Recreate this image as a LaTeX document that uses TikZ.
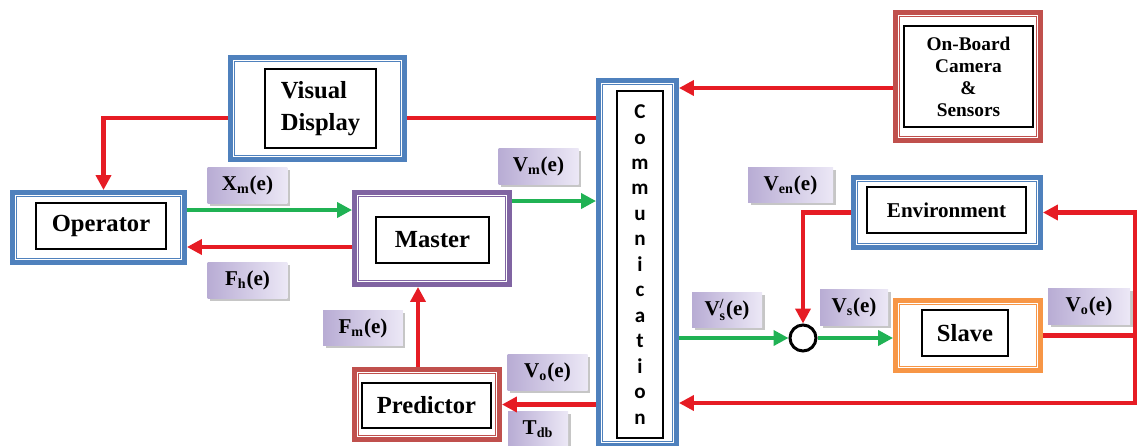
\documentclass[tikz,border=0pt]{standalone}
\usepackage{amsmath}
\usepackage{fontspec}
\setmainfont{Liberation Serif}
\newfontfamily\commfont{Carlito}
\usepackage{xcolor}
\usetikzlibrary{arrows.meta}

\definecolor{frameblue}{RGB}{79,129,189}
\definecolor{framepurple}{RGB}{128,100,162}
\definecolor{framered}{RGB}{192,80,77}
\definecolor{frameorange}{RGB}{247,150,70}
\definecolor{sigred}{RGB}{230,28,36}
\definecolor{siggreen}{RGB}{32,178,84}
\definecolor{tagdark}{RGB}{184,172,212}
\definecolor{taglight}{RGB}{236,232,246}

\begin{document}
\begin{tikzpicture}[
    x=0.02cm, y=-0.02cm,
    >={Triangle[length=0.3cm,width=0.3cm]},
    % blocks with double frame
    blockframe/.style={rectangle, draw=#1, line width=2.8pt, fill=white,
        path picture={\draw[#1, line width=0.6pt]
            ([shift={(0.08cm,0.08cm)}]path picture bounding box.south west) rectangle
            ([shift={(-0.08cm,-0.08cm)}]path picture bounding box.north east);}},
    inbox/.style={rectangle, draw=black, line width=0.8pt, fill=white, align=center,
        font=\fontsize{14}{18}\selectfont\bfseries},
    % signal labels
    sigtag/.style={rectangle, left color=tagdark, right color=taglight,
        minimum width=1.6cm, minimum height=0.72cm, inner sep=1pt,
        font=\fontsize{12}{14}\selectfont\bfseries,
        preaction={fill=gray!45, transform canvas={shift={(0.05cm,-0.05cm)}}}},
    sumpoint/.style={circle, draw=black, line width=1.7pt, fill=white, minimum size=0.52cm, inner sep=0pt},
    redarrow/.style={->, draw=sigred, line width=2.6pt},
    greenarrow/.style={->, draw=siggreen, line width=2.6pt},
    redline/.style={draw=sigred, line width=2.6pt}
  ]
    \useasboundingbox (0,0) rectangle (1139,446);

    % --- blocks ---
    \node[blockframe=frameblue, minimum width=3.48cm, minimum height=2.04cm] (vd) at (317.5,108.5) {};
    \node[inbox, minimum width=2.22cm, minimum height=1.58cm, align=left] (vd-in) at (320.5,108.5) {Visual\\Display};

    \node[blockframe=frameblue, minimum width=3.44cm, minimum height=1.40cm] (op) at (98.5,227.5) {};
    \node[inbox, minimum width=2.60cm, minimum height=0.92cm] (op-in) at (101,226) {Operator};

    \node[blockframe=framepurple, minimum width=3.10cm, minimum height=1.84cm] (ms) at (432,238.5) {};
    \node[inbox, minimum width=2.26cm, minimum height=0.92cm] (ms-in) at (432.5,240) {Master};

    \node[blockframe=framered, minimum width=2.90cm, minimum height=1.40cm] (pr) at (427,404.5) {};
    \node[inbox, minimum width=2.58cm, minimum height=0.90cm] (pr-in) at (426.5,405.5) {Predictor};

    \node[blockframe=frameblue, minimum width=1.56cm, minimum height=7.30cm] (comm) at (637.5,263) {};
    \node[inbox, minimum width=0.92cm, minimum height=6.94cm,
          font=\commfont\fontsize{12}{14.5}\selectfont\bfseries] (comm-in) at (640,264.5)
          {C\\o\\m\\m\\u\\n\\i\\c\\a\\t\\i\\o\\n};

    \node[blockframe=framered, minimum width=2.90cm, minimum height=2.56cm] (cam) at (968,76.5) {};
    \node[inbox, minimum width=2.58cm, minimum height=2.02cm,
          font=\fontsize{11}{12.5}\selectfont\bfseries] (cam-in) at (968.5,76.5)
          {On-Board\\Camera\\\&\\Sensors};

    \node[blockframe=frameblue, minimum width=3.74cm, minimum height=1.40cm] (env) at (947,212.5) {};
    \node[inbox, minimum width=3.18cm, minimum height=0.92cm,
          font=\fontsize{12}{14}\selectfont\bfseries] (env-in) at (946.5,210) {Environment};

    \node[blockframe=frameorange, minimum width=2.90cm, minimum height=1.40cm] (sl) at (968,335.5) {};
    \node[inbox, minimum width=1.72cm, minimum height=0.92cm] (sl-in) at (965,333) {Slave};

    \node[sumpoint] (sum) at (803,338) {};

    % --- signal labels ---
    \node[sigtag] (xm) at (247.5,185.5) {X\textsubscript{m}(e)};
    \node[sigtag] (fh) at (247.5,280.5) {F\textsubscript{h}(e)};
    \node[sigtag] (vm) at (538.5,166.5) {V\textsubscript{m}(e)};
    \node[sigtag] (fm) at (363,328) {F\textsubscript{m}(e)};
    \node[sigtag] (vo-l) at (547.5,372.5) {V\textsubscript{o}(e)};
    \node[sigtag, minimum width=1.2cm] (tdb) at (538,429) {T\textsubscript{db}};
    \node[sigtag, minimum width=1.7cm] (ven) at (790.5,185) {V\textsubscript{en}(e)};
    \node[sigtag, minimum width=1.4cm] (vsp) at (727,310) {V\ensuremath{^{\textbf{/}}_{\textbf{s}}}(e)};
    \node[sigtag, minimum width=1.36cm] (vs) at (854,307.5) {V\textsubscript{s}(e)};
    \node[sigtag, minimum width=1.64cm] (vo-r) at (1089,306.5) {V\textsubscript{o}(e)};

    % --- connectors ---
    \coordinate (vdlink) at ([yshift=-0.19cm]vd.east);
    \coordinate (camlink) at ([yshift=-0.23cm]cam.west);
    \coordinate (xmlink) at ([yshift=0.35cm]op.east);
    \coordinate (fhlink) at ([yshift=-0.17cm]ms.west);
    \coordinate (vmlink) at ([yshift=0.75cm]ms.east);
    \coordinate (fmlink) at ([xshift=-0.18cm]pr.north);
    \coordinate (turn) at (1135,335.5);
    \coordinate (back) at (1135,403);

    \draw[redarrow] ([yshift=-0.19cm]vd.west) -| ([xshift=0.1cm]op.north);
    \draw[redline] (comm.west |- vdlink) -- (vdlink);
    \draw[redarrow] (camlink) -- (camlink -| comm.east);

    \draw[greenarrow] (xmlink) -- (xmlink -| ms.west);
    \draw[redarrow] (fhlink) -- (fhlink -| op.east);
    \draw[greenarrow] (vmlink) -- (vmlink -| comm.west);
    \draw[redarrow] (fmlink) -- (fmlink |- ms.south);
    \draw[redarrow] (comm.west |- pr.east) -- (pr.east);

    \draw[greenarrow] (comm.east |- sum.west) -- (sum.west);
    \draw[greenarrow] (sum.east) -- (sum.east -| sl.west);
    \draw[redarrow] (env.west) -| (sum.north);

    % feedback from slave
    \draw[redarrow] (sl.east) -- (turn) |- (env.east);
    \draw[redarrow] (turn) -- (back) -- (back -| comm.east);
\end{tikzpicture}
\end{document}
